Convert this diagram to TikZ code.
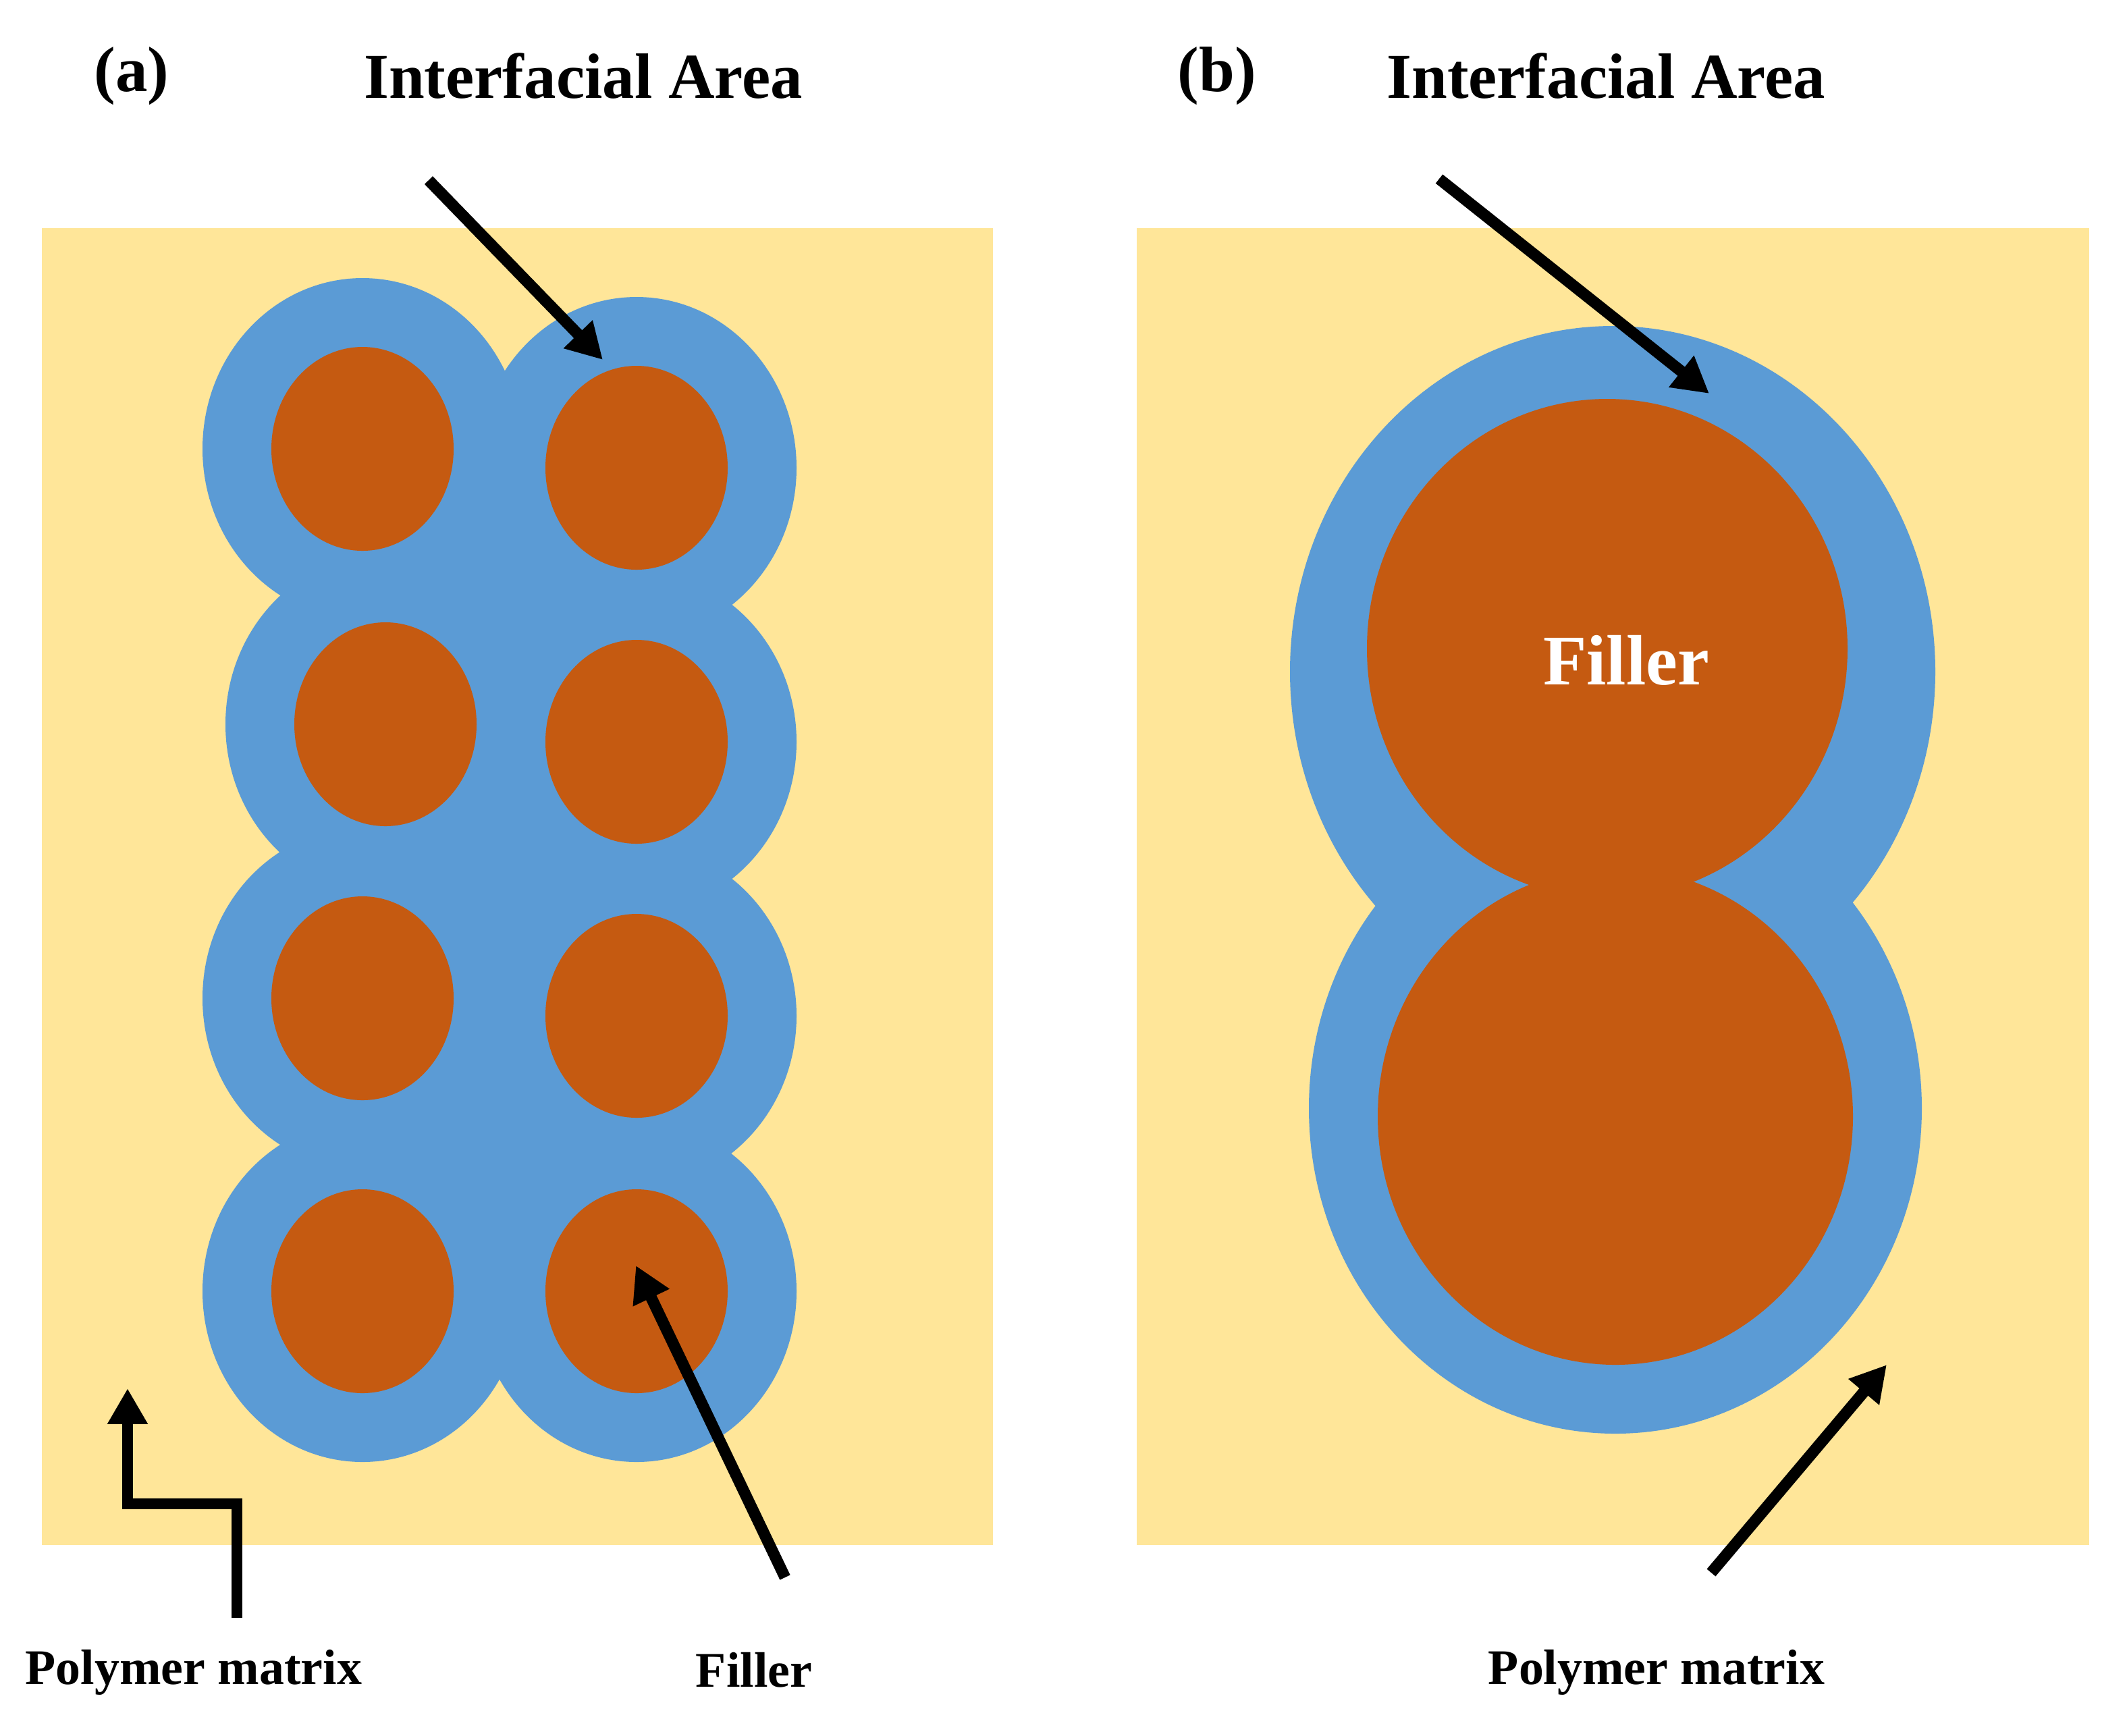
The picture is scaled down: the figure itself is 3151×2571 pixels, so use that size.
\documentclass[tikz,border=0pt]{standalone}
\usepackage{fontspec}
\setmainfont{Liberation Serif}
\usetikzlibrary{arrows.meta}
\definecolor{matrixY}{HTML}{FFE699}
\definecolor{interB}{HTML}{5B9BD5}
\definecolor{fillerO}{HTML}{C55A11}
\begin{document}
\begin{tikzpicture}[x=0.01cm,y=-0.01cm,
  blueshape/.style={fill=interB,draw=none},
  orangeshape/.style={fill=fillerO,draw=none},
  bigarrow/.style={line width=4.8pt,draw=black,miter limit=10,-{Triangle[length=15pt,width=16pt]}},
  title/.style={font=\fontsize{27}{30}\selectfont\bfseries},
  label/.style={font=\fontsize{21}{24}\selectfont\bfseries}]
\useasboundingbox (0,0) rectangle (3151,2571);
\fill[white] (0,0) rectangle (3151,2571);
% matrices
\fill[matrixY] (62,338) rectangle (1471,2289);
\fill[matrixY] (1684,338) rectangle (3095,2289);
% panel (a) interfacial areas
\fill[interB] (537,665) rectangle (943,1913);
\foreach \cx/\cy in {537/665,571/1073,537/1479,537/1913,943/693,943/1099,943/1505,943/1913}{
  \fill[blueshape] (\cx,\cy) ellipse [x radius=237, y radius=253];
}
\foreach \cx/\cy in {537/665,571/1073,537/1479,537/1913,943/693,943/1099,943/1505,943/1913}{
  \fill[orangeshape] (\cx,\cy) ellipse [x radius=135, y radius=151];
}
% panel (b)
\fill[blueshape] (2389,995) ellipse [x radius=478, y radius=512];
\fill[blueshape] (2393,1642) ellipse [x radius=454, y radius=482];
\fill[orangeshape] (2381,961) ellipse [x radius=356, y radius=370];
\fill[orangeshape] (2393,1654) ellipse [x radius=352, y radius=368];
% texts
\node[title] (ta) at (195,113) {(a)};
\node[title] (ia) at (864,113) {Interfacial Area};
\node[title] (tb) at (1803,113) {(b)};
\node[title] (ib) at (2379,113) {Interfacial Area};
\node[label] (pma) at (287,2478) {Polymer matrix};
\node[label] (fa) at (1117,2474) {Filler};
\node[label] (pmb) at (2454,2478) {Polymer matrix};
\node[text=white,font=\fontsize{30}{34}\selectfont\bfseries] (fb) at (2409,978) {Filler};
% arrows
\coordinate (a1s) at (635,267); \coordinate (a1e) at (893,533);
\coordinate (a2s) at (1163,2337); \coordinate (a2e) at (942,1875);
\coordinate (a3s) at (351,2397); \coordinate (a3m) at (351,2228); \coordinate (a3n) at (189,2228); \coordinate (a3e) at (189,2057);
\coordinate (b1s) at (2132,265); \coordinate (b1e) at (2532,583);
\coordinate (b2s) at (2535,2330); \coordinate (b2e) at (2795,2022);
\draw[bigarrow] (a1s) -- (a1e);
\draw[bigarrow] (a2s) -- (a2e);
\draw[bigarrow] (a3s) -- (a3m) -- (a3n) -- (a3e);
\draw[bigarrow] (b1s) -- (b1e);
\draw[bigarrow] (b2s) -- (b2e);
\end{tikzpicture}
\end{document}
